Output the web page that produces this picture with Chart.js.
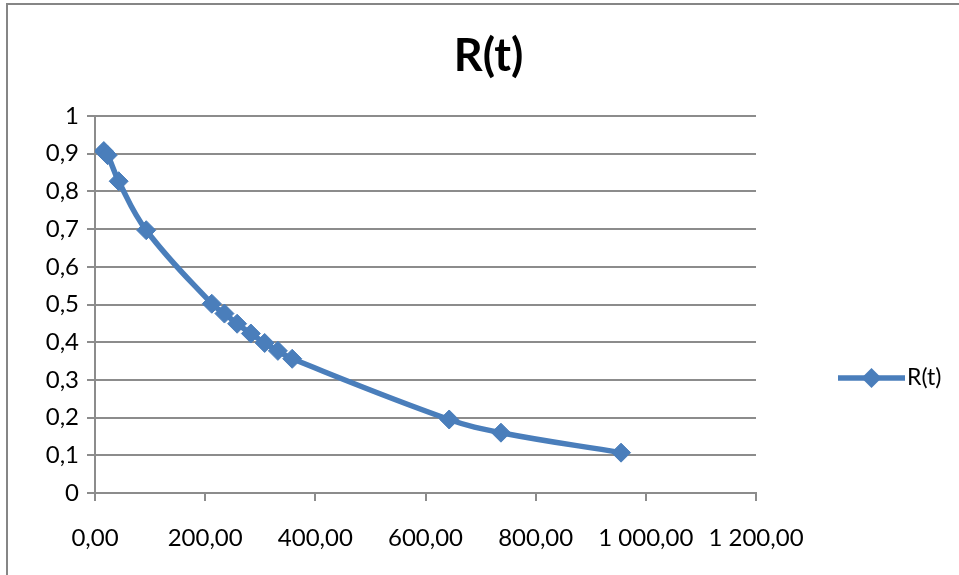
<!DOCTYPE html>
<html>
<head>
<meta charset="utf-8">
<script src="https://cdn.jsdelivr.net/npm/chart.js@4/dist/chart.umd.min.js"></script>
<style>
  html, body { margin: 0; padding: 0; background: #fff; overflow: hidden; }
  #wrap { position: relative; width: 959px; height: 575px; }
</style>
</head>
<body>
<div id="wrap"><canvas id="c" width="959" height="575"></canvas></div>
<script>
// Time values t and reliability R(t)
const tValues = [16, 23, 43, 93, 212, 235, 258, 283, 308, 332, 358, 643, 737, 955];
const rValues = [0.907, 0.896, 0.827, 0.697, 0.502, 0.476, 0.449, 0.423, 0.398, 0.377, 0.356, 0.195, 0.160, 0.107];
const seriesName = 'R(t)';
const chartTitle = 'R(t)';

const FONT = 'Lato, "Open Sans", sans-serif';
const BLUE = '#4a7ebb';
const GRID = '#8c8c8c';

// "1 000,00" style number formatting
function fmtX(v) {
  const parts = Number(v).toFixed(2).split('.');
  const intPart = parts[0].replace(/\B(?=(\d{3})+(?!\d))/g, ' ');
  return intPart + ',' + parts[1];
}
function fmtY(v) {
  const r = Math.round(v * 10) / 10;
  return String(r).replace('.', ',');
}

// Outer frame of the chart object
const framePlugin = {
  id: 'frame',
  beforeDraw(chart) {
    const ctx = chart.ctx;
    ctx.save();
    ctx.fillStyle = '#fff';
    ctx.fillRect(0, 0, chart.width, chart.height);
    ctx.strokeStyle = '#868686';
    ctx.lineWidth = 2;
    ctx.strokeRect(7, 4, chart.width + 50, chart.height + 50);
    ctx.restore();
  }
};

// Title centred across the whole chart object
const titlePlugin = {
  id: 'centerTitle',
  afterDraw(chart) {
    const ctx = chart.ctx;
    ctx.save();
    ctx.fillStyle = '#000';
    ctx.font = 'bold 45px ' + FONT;
    ctx.textAlign = 'center';
    ctx.textBaseline = 'middle';
    ctx.fillText(chartTitle, chart.width / 2 + 9, 56);
    ctx.restore();
  }
};

// Legend entry on the right: line with diamond marker and series name
const sideLegend = {
  id: 'sideLegend',
  afterDraw(chart) {
    const ctx = chart.ctx;
    const area = chart.chartArea;
    const x0 = area.right + 82;
    const x1 = x0 + 67;
    const y = area.top + (area.bottom - area.top) * 0.695;
    ctx.save();
    ctx.strokeStyle = BLUE;
    ctx.lineWidth = 5.5;
    ctx.beginPath();
    ctx.moveTo(x0, y);
    ctx.lineTo(x1, y);
    ctx.stroke();
    const cx = (x0 + x1) / 2, r = 10;
    ctx.fillStyle = BLUE;
    ctx.beginPath();
    ctx.moveTo(cx - r, y);
    ctx.lineTo(cx, y - r);
    ctx.lineTo(cx + r, y);
    ctx.lineTo(cx, y + r);
    ctx.closePath();
    ctx.fill();
    ctx.fillStyle = '#000';
    ctx.font = '23px ' + FONT;
    ctx.textBaseline = 'middle';
    ctx.textAlign = 'left';
    ctx.fillText(seriesName, x1 + 2, y);
    ctx.restore();
  }
};

const points = tValues.map((t, i) => ({ x: t, y: rValues[i] }));

new Chart(document.getElementById('c'), {
  type: 'scatter',
  data: {
    datasets: [{
      label: seriesName,
      data: points,
      showLine: true,
      tension: 0.4,
      borderColor: BLUE,
      backgroundColor: BLUE,
      borderWidth: 5.5,
      pointStyle: 'rectRot',
      pointRadius: 9.5,
      pointBorderWidth: 1,
      pointBorderColor: BLUE,
      pointBackgroundColor: BLUE
    }]
  },
  options: {
    responsive: false,
    animation: false,
    layout: { padding: { left: 0, right: 203, top: 116, bottom: 0 } },
    plugins: {
      legend: { display: false },
      tooltip: { enabled: false },
      title: { display: false }
    },
    scales: {
      x: {
        type: 'linear',
        min: 0,
        max: 1200,
        afterFit(scale) { scale.height = 82; },
        ticks: {
          stepSize: 200,
          color: '#000',
          padding: 23,
          maxRotation: 0,
          font: { family: FONT, size: 24 },
          callback: (v) => fmtX(v)
        },
        grid: { drawOnChartArea: false, drawTicks: true, tickLength: 8, color: GRID, lineWidth: 2 },
        border: { display: true, color: GRID, width: 2 }
      },
      y: {
        min: 0,
        max: 1,
        afterFit(scale) { scale.width = 95; },
        ticks: {
          stepSize: 0.1,
          color: '#000',
          padding: 8,
          font: { family: FONT, size: 24 },
          callback: (v) => fmtY(v)
        },
        grid: { drawOnChartArea: true, drawTicks: true, tickLength: 8, color: GRID, lineWidth: 2 },
        border: { display: true, color: GRID, width: 2 }
      }
    }
  },
  plugins: [framePlugin, titlePlugin, sideLegend]
});
</script>
</body>
</html>
